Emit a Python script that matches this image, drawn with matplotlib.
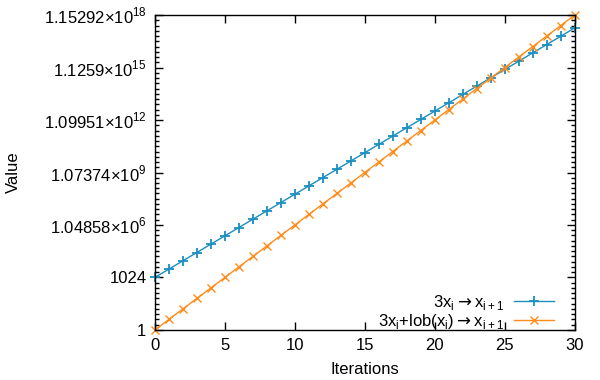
import matplotlib
matplotlib.use('Agg')
import matplotlib.pyplot as plt
from matplotlib.ticker import FixedLocator, NullFormatter

plt.rcParams['font.family'] = ['Liberation Sans', 'DejaVu Sans']
plt.rcParams['mathtext.fontset'] = 'dejavusans'

# iterations and values
iterations = list(range(31))
times3 = [1024, 3072, 9216, 27648, 82944, 248832, 746496, 2239488, 6718464,
          20155392, 60466176, 181398528, 544195584, 1632586752, 4897760256,
          14693280768, 44079842304, 132239526912, 396718580736, 1190155742208,
          3570467226624, 10711401679872, 32134205039616, 96402615118848,
          289207845356544, 867623536069632, 2602870608208896, 7808611824626688,
          23425835473880064, 70277506421640192, 210832519264920576]
times3_lob = [1, 4, 16, 64, 256, 1024, 4096, 16384, 65536, 262144, 1048576,
              4194304, 16777216, 67108864, 268435456, 1073741824, 4294967296,
              17179869184, 68719476736, 274877906944, 1099511627776,
              4398046511104, 17592186044416, 70368744177664, 281474976710656,
              1125899906842624, 4503599627370496, 18014398509481984,
              72057594037927936, 288230376151711744, 1152921504606846976]

ytick_vals = [2**k for k in range(0, 61, 10)]
ytick_labels = ['1', '1024', r'1.04858×10$^\mathregular{6}$',
                r'1.07374×10$^\mathregular{9}$', r'1.09951×10$^\mathregular{12}$',
                r'1.1259×10$^\mathregular{15}$', r'1.15292×10$^\mathregular{18}$']
xtick_vals = [0, 5, 10, 15, 20, 25, 30]

blue = '#1a8fc0'
orange = '#ff8c1a'
fs = 12

fig, ax = plt.subplots(figsize=(6, 3.8), dpi=100)
fig.subplots_adjust(left=0.258, right=0.958, top=0.9605, bottom=0.1316)

ax.plot(iterations, times3, color=blue, lw=1, marker='+', ms=7, mew=1.3,
        clip_on=False, label=r'3x$_\mathregular{i}\rightarrow$x$_\mathregular{i+1}$')
ax.plot(iterations, times3_lob, color=orange, lw=1, marker='x', ms=6, mew=1,
        clip_on=False,
        label=r'3x$_\mathregular{i}$+lob(x$_\mathregular{i}$)$\rightarrow$x$_\mathregular{i+1}$')

ax.set_yscale('log', base=2)
ax.set_xlim(0, 30)
ax.set_ylim(1, 2**60)
ax.yaxis.set_major_locator(FixedLocator(ytick_vals))
ax.yaxis.set_minor_locator(FixedLocator([2**k for k in range(61) if k % 10]))
ax.yaxis.set_minor_formatter(NullFormatter())
ax.set_yticklabels(ytick_labels)
ax.set_xticks(xtick_vals)
ax.set_xticklabels([str(v) for v in xtick_vals])

ax.tick_params(which='both', direction='in', top=True, right=True,
               labelsize=fs, colors='black')
ax.tick_params(which='major', length=6, width=1, pad=6)
ax.tick_params(which='minor', length=3, width=1)
for s in ax.spines.values():
    s.set_linewidth(1)

ax.set_xlabel('Iterations', fontsize=fs, labelpad=6)
ax.set_ylabel('Value', fontsize=fs, labelpad=16)

ax.legend(loc='lower right', bbox_to_anchor=(0.971, -0.03), frameon=False,
          markerfirst=False, fontsize=fs, handlelength=2.4,
          borderaxespad=0.1, labelspacing=0.0, handletextpad=0.6)

fig.savefig('out.png')
